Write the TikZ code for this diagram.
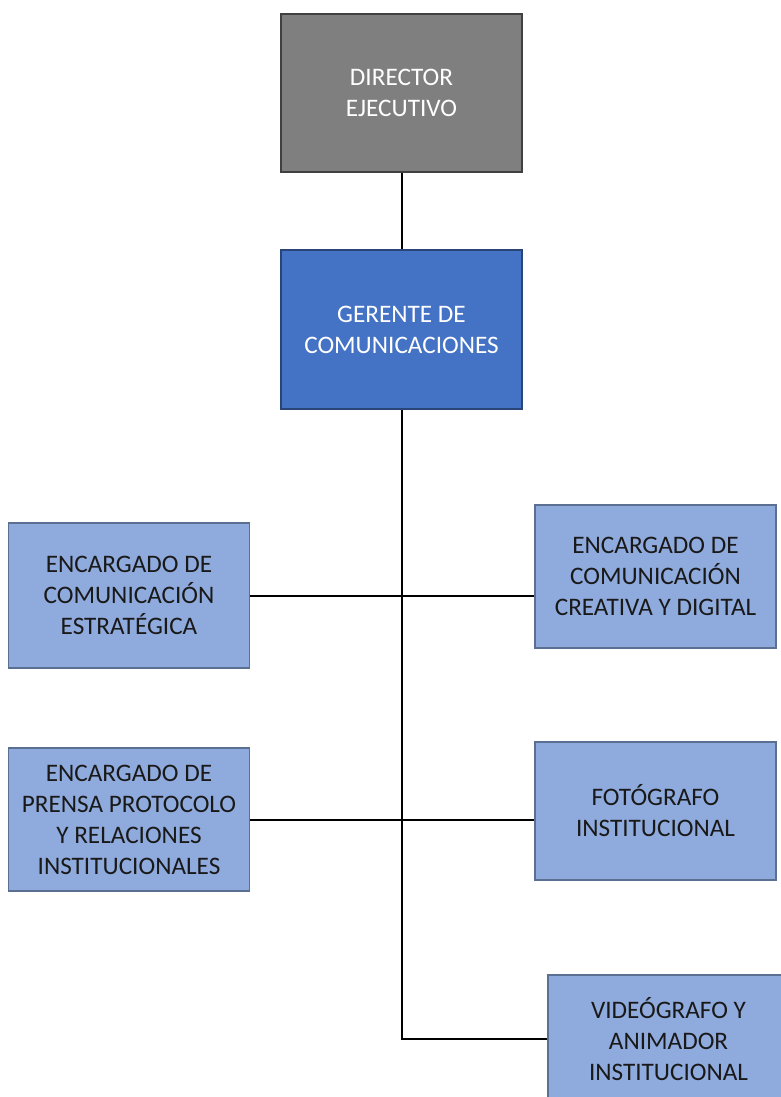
\documentclass[tikz,border=0pt]{standalone}
\usepackage{fontspec}
\setmainfont{Carlito}
\usetikzlibrary{positioning}

\definecolor{dirgray}{HTML}{7F7F7F}
\definecolor{gerblue}{HTML}{4472C4}
\definecolor{encblue}{HTML}{8FAADC}
\definecolor{encline}{HTML}{5B6F93}

\begin{document}
\begin{tikzpicture}[
		x=1pt, y=-1pt,
		block/.style={draw=encline, line width=1.4pt, fill=encblue, minimum width=241pt, align=center, text=black!90, font=\fontsize{25.2}{31}\selectfont},
		headblock/.style={block, minimum height=158pt, text=white},
		link/.style={line width=2pt, black},
	]
		\useasboundingbox (0,0) rectangle (780,1097);

		\node (dir) [headblock, fill=dirgray, draw=black!75] at (401.5,93) {DIRECTOR\\EJECUTIVO};
		\node (ger) [headblock, fill=gerblue, draw=gerblue!60!black, minimum height=159pt] at (401.5,329.5) {GERENTE DE\\COMUNICACIONES};

		\node (com est) [block, minimum height=145pt] at (129,595.5) {ENCARGADO DE\\COMUNICACIÓN\\ESTRATÉGICA};
		\node (com cre) [block, minimum height=143pt] at (655.5,576.5) {ENCARGADO DE\\COMUNICACIÓN\\CREATIVA Y DIGITAL};
		\node (prensa) [block, minimum height=143pt] at (129,819.5) {ENCARGADO DE\\PRENSA PROTOCOLO\\Y RELACIONES\\INSTITUCIONALES};
		\node (foto) [block, minimum height=138pt] at (655.5,811) {FOTÓGRAFO\\INSTITUCIONAL};
		\node (video) [block, minimum height=128pt] at (668.5,1039) {VIDEÓGRAFO Y\\ANIMADOR\\INSTITUCIONAL};

		\coordinate (trunk end) at (ger.south |- video.west);

		\draw[link] (dir) -- (ger);
		\draw[link] (ger.south) -- (trunk end) -- (video.west);
		\draw[link] (com est.east) -- (com est.east -| com cre.west);
		\draw[link] (prensa.east) -- (prensa.east -| foto.west);
	\end{tikzpicture}
\end{document}
